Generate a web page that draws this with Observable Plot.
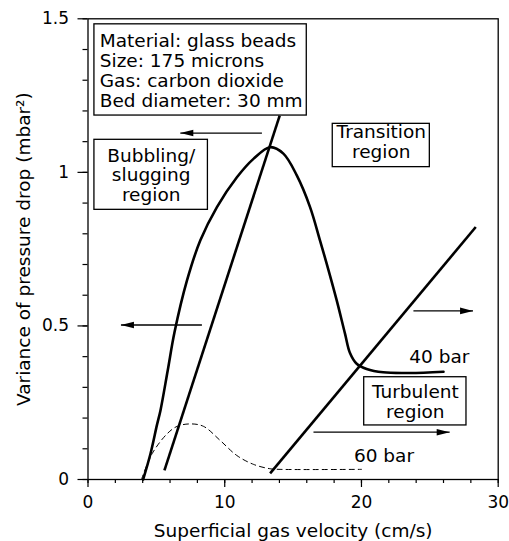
<!DOCTYPE html>
<html><head><meta charset="utf-8">
<script src="https://cdn.jsdelivr.net/npm/d3@7"></script>
<script src="https://cdn.jsdelivr.net/npm/@observablehq/plot@0.6"></script>
<style>body{margin:0;background:#fff}</style>
</head><body><div id="chart"></div>
<script>
// 40 bar curve (solid)
const bar40X = [4.03, 4.57, 5.04, 5.30, 5.83, 6.33, 7.24, 8.21, 9.43, 10.89, 12.1, 13.32, 14.29, 15.27, 16.24, 16.97, 17.46, 18.19, 18.8, 19.16, 19.65, 20.38, 21.59, 23.54, 26.0];
const bar40Y = [0, 0.084, 0.177, 0.225, 0.355, 0.48, 0.648, 0.778, 0.887, 0.984, 1.044, 1.082, 1.061, 0.99, 0.887, 0.778, 0.702, 0.583, 0.474, 0.412, 0.377, 0.360, 0.349, 0.347, 0.351];
// 60 bar curve (dashed)
const bar60X = [3.91, 4.69, 5.79, 6.52, 7.49, 8.45, 9.67, 10.89, 12.12, 13.32, 14.05, 20.0];
const bar60Y = [0, 0.084, 0.149, 0.173, 0.181, 0.173, 0.127, 0.078, 0.049, 0.035, 0.033, 0.033];
// regime boundary lines
const line1X = [5.59, 14.02];
const line1Y = [0.03, 1.185];
const line2X = [13.32, 28.36];
const line2Y = [0.02, 0.822];
// arrows (tail -> tip)
const arrowTailX = [12.72, 8.33, 23.8, 16.49];
const arrowTipX = [6.75, 2.41, 28.16, 26.45];
const arrowY = [1.128, 0.503, 0.549, 0.154];
// boxed annotations
const boxLabels = ["Material: glass beads\nSize: 175 microns\nGas: carbon dioxide\nBed diameter: 30 mm", "Bubbling/\nslugging\nregion", "Transition\nregion", "Turbulent\nregion"];
const boxTextX = [0.86, 4.62, 21.45, 23.94];
const boxTextY = [1.332, 0.991, 1.100, 0.2527];
const boxAnchor = ["start", "middle", "middle", "middle"];
const boxX1 = [0.47, 0.47, 17.9, 20.2];
const boxX2 = [16.0, 8.77, 25.0, 27.68];
const boxY1 = [1.185, 0.878, 1.017, 0.176];
const boxY2 = [1.482, 1.106, 1.158, 0.333];
// pressure labels
const pressLabels = ["40 bar", "60 bar"];
const pressX = [23.5, 19.45];
const pressY = [0.3976, 0.0752];
// axes
const xTicks = [0, 10, 20, 30];
const xTickLabels = ["0", "10", "20", "30"];
const xMinor = d3.range(0, 31, 2);
const yTicks = [0, 0.5, 1, 1.5];
const yTickLabels = ["0", "0.5", "1", "1.5"];
const yMinor = d3.range(0, 16).map(i => i / 10);
const xLabel = "Superficial gas velocity (cm/s)";
const yLabel = "Variance of pressure drop (mbar²)";

const bar40 = bar40X.map((x, i) => ({x, y: bar40Y[i]}));
const bar60 = bar60X.map((x, i) => ({x, y: bar60Y[i]}));
const lines = [
  {x1: line1X[0], y1: line1Y[0], x2: line1X[1], y2: line1Y[1]},
  {x1: line2X[0], y1: line2Y[0], x2: line2X[1], y2: line2Y[1]}
];
const arrows = arrowY.map((y, i) => ({x1: arrowTailX[i], x2: arrowTipX[i], y, right: arrowTipX[i] > arrowTailX[i]}));
const boxes = boxLabels.map((t, i) => ({t, x: boxTextX[i], y: boxTextY[i], anchor: boxAnchor[i], x1: boxX1[i], x2: boxX2[i], y1: boxY1[i], y2: boxY2[i]}));
const press = pressLabels.map((t, i) => ({t, x: pressX[i], y: pressY[i]}));

const headRight = {draw(c) { c.moveTo(0, 0); c.lineTo(-13, -3.3); c.lineTo(-13, 3.3); c.closePath(); }};
const headLeft = {draw(c) { c.moveTo(0, 0); c.lineTo(13, -3.3); c.lineTo(13, 3.3); c.closePath(); }};

const FONT = "DejaVu Sans";
const chart = Plot.plot({
  width: 509,
  height: 541,
  marginLeft: 87.5,
  marginRight: 11.3,
  marginTop: 18.3,
  marginBottom: 62,
  style: {fontFamily: FONT, fontSize: "17px", background: "#fff", color: "#000"},
  x: {domain: [0, 30]},
  y: {domain: [0, 1.5]},
  marks: [
    Plot.axisX(xMinor, {tickSize: 4, fill: "none", label: null, strokeWidth: 1.2}),
    Plot.axisX(xTicks, {tickSize: 8, tickPadding: 8, tickFormat: (d, i) => xTickLabels[i], label: null, strokeWidth: 1.2, fontSize: 17}),
    Plot.axisY(yMinor, {tickSize: 5, fill: "none", label: null, strokeWidth: 1.2}),
    Plot.axisY(yTicks, {tickSize: 10, tickPadding: 9, tickFormat: (d, i) => yTickLabels[i], label: null, strokeWidth: 1.2, fontSize: 17}),
    Plot.line(bar60, {x: "x", y: "y", curve: "catmull-rom", stroke: "#000", strokeWidth: 1, strokeDasharray: "5,4"}),
    Plot.line(bar40, {x: "x", y: "y", curve: "catmull-rom", stroke: "#000", strokeWidth: 2.6}),
    Plot.link(lines, {x1: "x1", y1: "y1", x2: "x2", y2: "y2", stroke: "#000", strokeWidth: 2.6}),
    Plot.link(arrows, {x1: "x1", x2: "x2", y1: "y", y2: "y", stroke: "#000", strokeWidth: 1.3}),
    Plot.dot(arrows.filter(a => a.right), {x: "x2", y: "y", symbol: headRight, fill: "#000", stroke: "none", r: 4}),
    Plot.dot(arrows.filter(a => !a.right), {x: "x2", y: "y", symbol: headLeft, fill: "#000", stroke: "none", r: 4}),
    Plot.rect(boxes, {x1: "x1", x2: "x2", y1: "y1", y2: "y2", fill: "#fff", stroke: "#000", strokeWidth: 1.3}),
    Plot.text(boxes.filter(b => b.anchor === "start"), {x: "x", y: "y", text: "t", textAnchor: "start", lineAnchor: "middle", lineHeight: 1.08, fontSize: 18.5, fill: "#000"}),
    Plot.text(boxes.filter(b => b.anchor === "middle"), {x: "x", y: "y", text: "t", textAnchor: "middle", lineAnchor: "middle", lineHeight: 1.06, fontSize: 18.5, fill: "#000"}),
    Plot.text(press, {x: "x", y: "y", text: "t", textAnchor: "start", lineAnchor: "middle", fontSize: 18.5, fill: "#000"}),
    Plot.text([xLabel], {frameAnchor: "bottom", dy: 52, text: d => d, textAnchor: "middle", lineAnchor: "middle", fontSize: 18.5, fill: "#000"}),
    Plot.text([yLabel], {frameAnchor: "left", dx: -64, rotate: -90, text: d => d, textAnchor: "middle", lineAnchor: "middle", fontSize: 18.5, fill: "#000"}),
    Plot.frame({stroke: "#000", strokeWidth: 1.3})
  ]
});
document.getElementById("chart").appendChild(chart);
</script>
</body></html>
